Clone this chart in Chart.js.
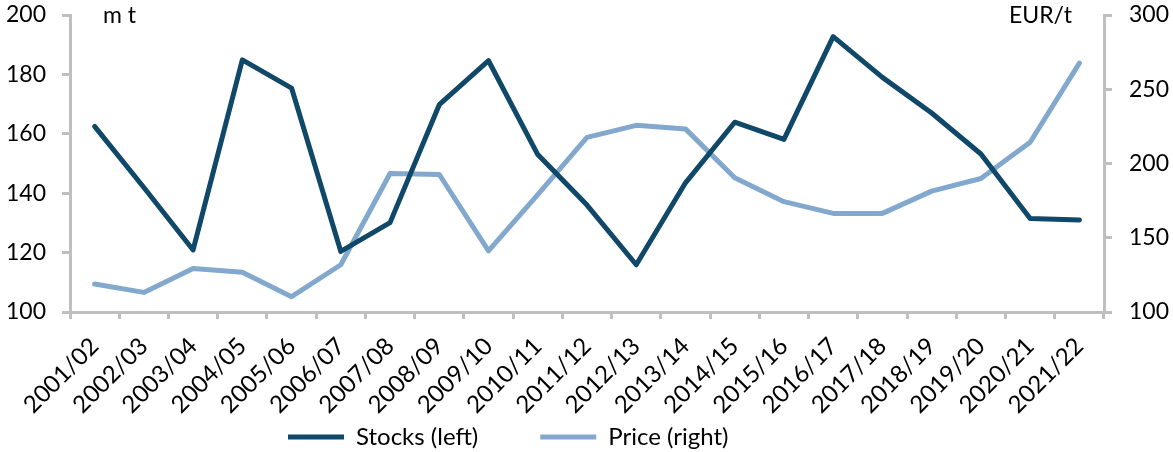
<!DOCTYPE html>
<html>
<head>
<meta charset="utf-8">
<script src="https://cdn.jsdelivr.net/npm/chart.js@4.4.1/dist/chart.umd.min.js"></script>
<style>
html,body{margin:0;padding:0;background:#fff;}
#wrap{width:1173px;height:452px;position:relative;}
</style>
</head>
<body>
<div id="wrap"><canvas id="c" width="1173" height="452"></canvas></div>
<script>
const categories = ["2001/02","2002/03","2003/04","2004/05","2005/06","2006/07","2007/08","2008/09","2009/10","2010/11","2011/12","2012/13","2013/14","2014/15","2015/16","2016/17","2017/18","2018/19","2019/20","2020/21","2021/22"];
const stocks = [162.5,141.9,120.9,184.9,175.4,120.4,130.1,169.8,184.6,153.0,136.0,115.9,143.5,163.9,158.1,192.7,179.0,167.0,153.2,131.5,131.0];
const price = [118.8,113.2,129.3,126.7,110.3,131.8,193.3,192.6,141.2,179.0,217.6,225.7,223.3,190.4,174.3,166.4,166.4,181.4,189.9,214.3,267.6];
const leftTicks = [100,120,140,160,180,200];
const rightTicks = [100,150,200,250,300];
const seriesNames = ["Stocks (left)","Price (right)"];
const unitLeft = "m t";
const unitRight = "EUR/t";

const FONT = "Lato";
const AXIS = "#bfbfbf";
const TXT = "#000000";
const LEGEND_PAD = 62;
const LEGEND_SHIFT = 59;
const LEGEND_LEFT = 226;

const unitsPlugin = {
  id: 'units',
  afterLayout(chart) {
    if (chart.legend) {
      chart.legend.top -= LEGEND_SHIFT;
      chart.legend.left = LEGEND_LEFT;
    }
  },
  afterDraw(chart) {
    const ctx = chart.ctx;
    ctx.save();
    ctx.fillStyle = TXT;
    ctx.font = "23px " + FONT;
    ctx.textBaseline = "alphabetic";
    ctx.textAlign = "left";
    ctx.fillText(unitLeft, 103, 23);
    ctx.textAlign = "right";
    ctx.fillText(unitRight, 1072, 23);
    ctx.restore();
  }
};

function yFit(w) {
  return function(s) { s.width = w; s.paddingTop = 15; s.paddingBottom = 0; };
}

new Chart(document.getElementById('c'), {
  type: 'line',
  data: {
    labels: categories,
    datasets: [
      {label: seriesNames[0], data: stocks, yAxisID: 'y', borderColor: '#0f4868', backgroundColor: '#0f4868', borderWidth: 5, pointRadius: 0, tension: 0, borderJoinStyle: 'round', borderCapStyle: 'round', pointStyle: 'line'},
      {label: seriesNames[1], data: price, yAxisID: 'y2', borderColor: '#82a9cd', backgroundColor: '#82a9cd', borderWidth: 5, pointRadius: 0, tension: 0, borderJoinStyle: 'round', borderCapStyle: 'round', pointStyle: 'line'}
    ]
  },
  options: {
    responsive: false,
    animation: false,
    layout: {padding: 0},
    plugins: {
      legend: {
        position: 'bottom',
        align: 'start',
        maxHeight: 30,
        labels: {
          usePointStyle: true,
          pointStyleWidth: 56,
          boxHeight: 5,
          color: TXT,
          font: {family: FONT, size: 24},
          padding: LEGEND_PAD
        }
      },
      tooltip: {enabled: false}
    },
    scales: {
      x: {
        type: 'category',
        offset: true,
        grid: {display: true, offset: true, drawOnChartArea: false, drawTicks: true, tickLength: 7, color: AXIS, lineWidth: 3},
        border: {display: true, color: AXIS, width: 3},
        ticks: {color: TXT, font: {family: FONT, size: 24}, minRotation: 45, maxRotation: 45, autoSkip: false, padding: 13},
        afterFit(s) { s.height = 110; }
      },
      y: {
        position: 'left',
        min: 100, max: 200,
        afterBuildTicks(s) { s.ticks = leftTicks.map(v => ({value: v})); },
        grid: {display: true, drawOnChartArea: false, drawTicks: true, tickLength: 8, color: AXIS, lineWidth: 3},
        border: {display: true, color: AXIS, width: 3},
        ticks: {color: TXT, font: {family: FONT, size: 23}, padding: 16},
        afterFit: yFit(70)
      },
      y2: {
        position: 'right',
        min: 100, max: 300,
        afterBuildTicks(s) { s.ticks = rightTicks.map(v => ({value: v})); },
        grid: {display: true, drawOnChartArea: false, drawTicks: true, tickLength: 8, color: AXIS, lineWidth: 3},
        border: {display: true, color: AXIS, width: 3},
        ticks: {color: TXT, font: {family: FONT, size: 23}, padding: 17},
        afterFit: yFit(69)
      }
    }
  },
  plugins: [unitsPlugin]
});
</script>
</body>
</html>
